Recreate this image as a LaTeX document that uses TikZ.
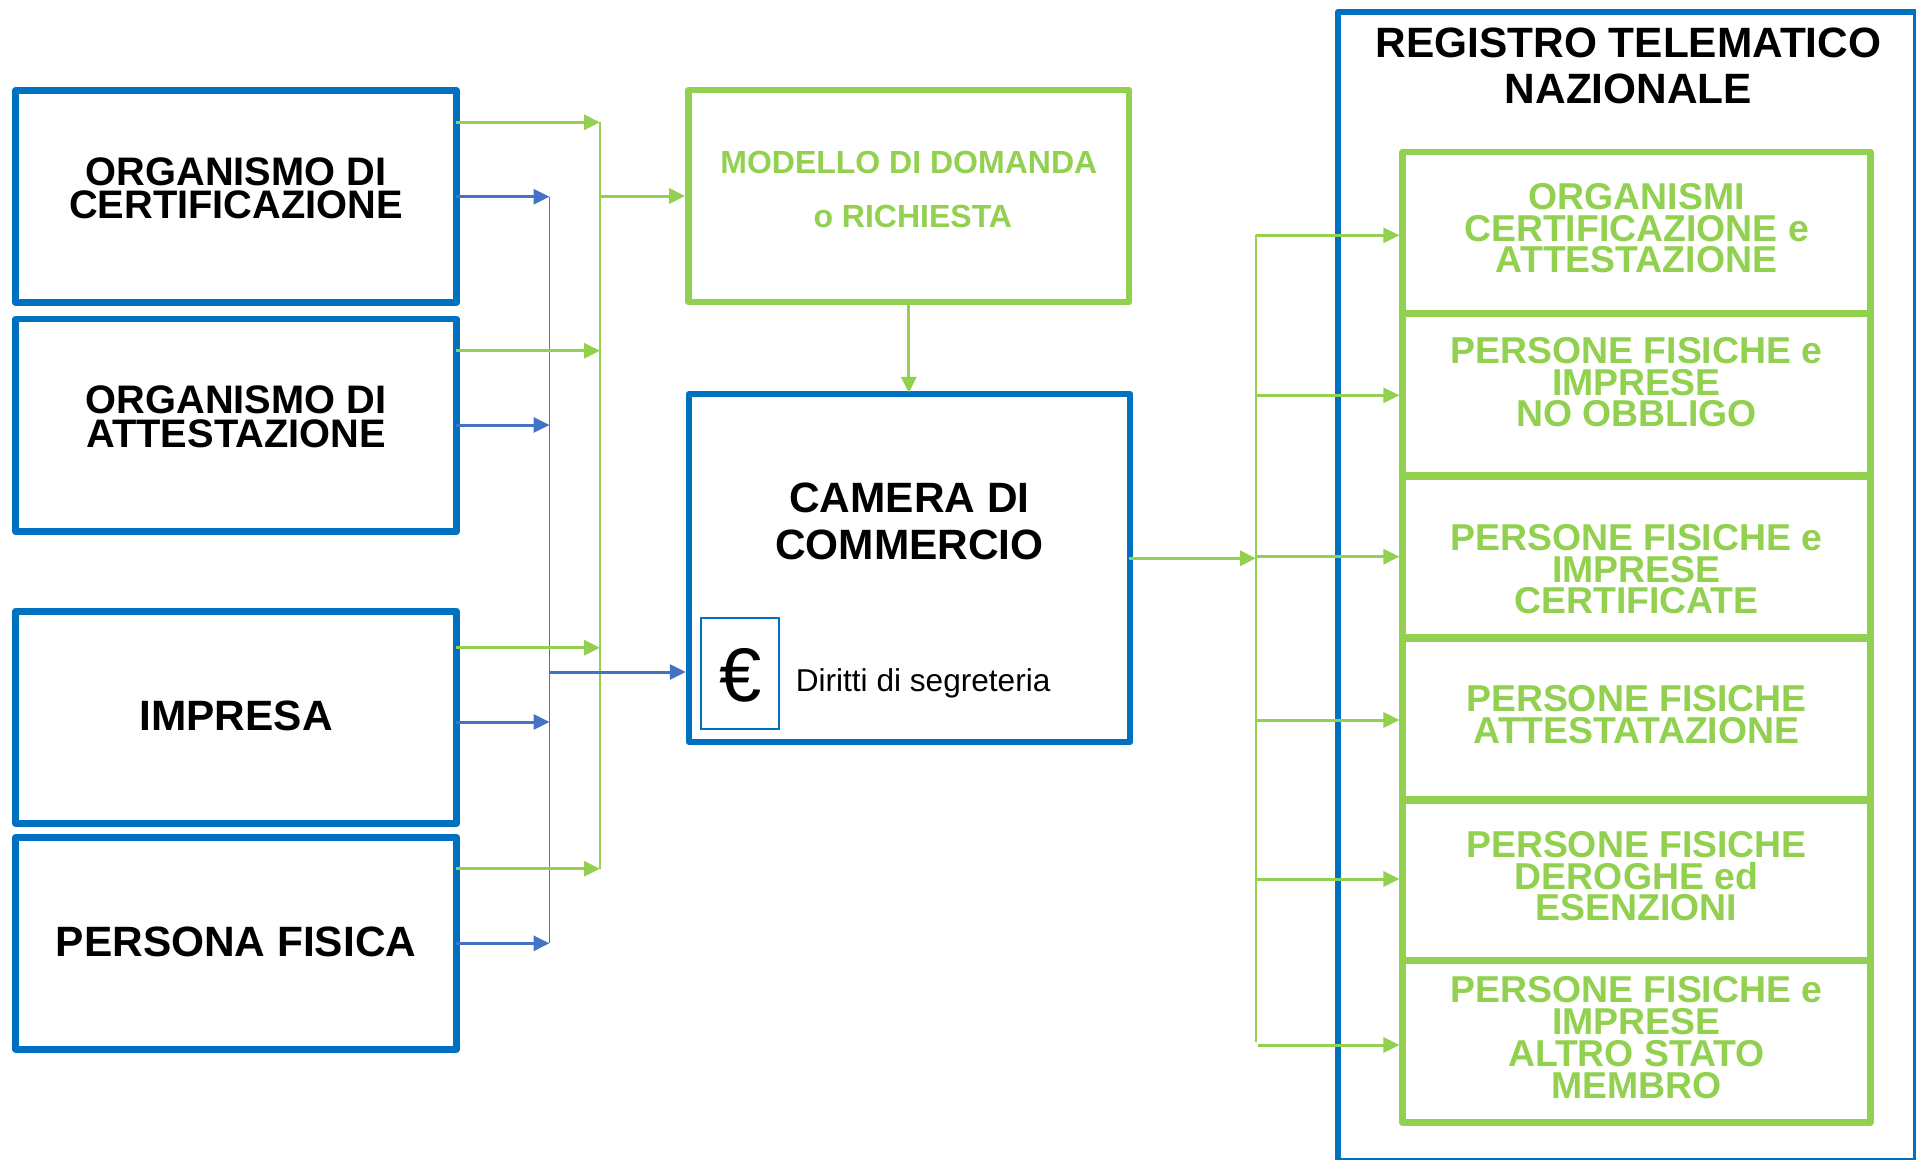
\documentclass[tikz,border=0pt]{standalone}
\usepackage{fontspec}
\setmainfont{Liberation Sans}
\usetikzlibrary{arrows.meta}
\definecolor{bluebox}{HTML}{0070C0}
\definecolor{greenbox}{HTML}{92D050}
\definecolor{bluearrow}{HTML}{4472C4}
\tikzset{
  basebox/.style={draw,line width=6.5pt,line join=round,inner sep=0pt,align=center,fill=white},
  bluebx/.style={basebox,draw=bluebox,text=black},
  greenbx/.style={basebox,draw=greenbox,text=greenbox},
  sz/.style n args={3}{minimum width=#1pt,minimum height=#2pt,text height=#3pt,text depth=0pt},
  szup/.style n args={3}{minimum width=#1pt,minimum height=#2pt,text height=0pt,text depth=#3pt},
  fleft/.style={font=\fontsize{39.8}{33.3}\selectfont\bfseries},
  fbig/.style={font=\fontsize{42.4}{46.5}\selectfont\bfseries},
  fstack/.style={font=\fontsize{37.4}{31.7}\selectfont\bfseries},
  fmod/.style={font=\fontsize{32}{53.7}\selectfont\bfseries},
  garrow/.style={draw=greenbox,line width=3pt,-{Triangle[length=16pt,width=15pt]}},
  barrow/.style={draw=bluearrow,line width=3pt,-{Triangle[length=16pt,width=15pt]}},
  gbus/.style={draw=greenbox,line width=1.5pt},
  bbus/.style={draw=bluearrow,line width=1.2pt},
}
\begin{document}
\begin{tikzpicture}[x=1pt,y=-1pt]
\useasboundingbox (0,0) rectangle (1916,1159.6);
\fill[white] (0,0) rectangle (1916,1159.6);
\clip (0,0) rectangle (1916,1159.6);

% Registro
\node[bluebx,fbig,szup={578.5}{1149.5}{966}] (reg) at (1627.25,586.75) {\hspace*{2.4pt}REGISTRO TELEMATICO\\\hspace*{2.4pt}NAZIONALE};

% left boxes
\node[bluebx,fleft,sz={440.8}{212.4}{44.4}] (cert) at (236.1,196.5) {ORGANISMO DI\\CERTIFICAZIONE};
\node[bluebx,fleft,sz={440.8}{212.4}{43.6}] (att) at (236.1,425.2) {ORGANISMO DI\\ATTESTAZIONE};
\node[bluebx,fbig,sz={440.8}{212}{25.4}] (imp) at (236.1,717.3) {IMPRESA};
\node[bluebx,fbig,sz={440.8}{212}{25.5}] (pf) at (236.1,943.25) {PERSONA FISICA};

% centre
\node[greenbx,fmod,sz={440.8}{212}{62}] (mod) at (908.8,196) {MODELLO DI DOMANDA\\\hspace*{8pt}o RICHIESTA};
\node[bluebx,fbig,szup={441}{347.7}{18}] (cam) at (909.5,568) {CAMERA DI\\COMMERCIO};
\node[draw=bluebox,line width=1.5pt,inner sep=0pt,font=\fontsize{76}{80}\selectfont,sz={78}{111}{56.4}] (eur) at (740,673.5) {\hspace*{2pt}€};
\node[anchor=base west,inner sep=0pt,font=\fontsize{31.6}{36}\selectfont] (dir) at (795.6,691.7) {Diritti di segreteria};

% stack
\node[greenbx,fstack,sz={467.6}{161.2}{80.2}] (s1) at (1636.5,232.6) {ORGANISMI\\CERTIFICAZIONE e\\ATTESTAZIONE};
\node[greenbx,fstack,sz={467.6}{161.4}{64.8}] (s2) at (1636.5,394.3) {PERSONE FISICHE e\\IMPRESE\\NO OBBLIGO};
\node[greenbx,fstack,sz={467.6}{160.9}{113.5}] (s3) at (1636.5,556.95) {PERSONE FISICHE e\\IMPRESE\\CERTIFICATE};
\node[greenbx,fstack,sz={467.6}{160.2}{49}] (s4) at (1636.5,719.1) {PERSONE FISICHE\\ATTESTATAZIONE};
\node[greenbx,fstack,sz={467.6}{159.5}{80.3}] (s5) at (1636.5,880.55) {PERSONE FISICHE\\DEROGHE ed\\ESENZIONI};
\node[greenbx,fstack,sz={467.6}{161.7}{112.9}] (s6) at (1636.5,1041.55) {PERSONE FISICHE e\\IMPRESE\\ALTRO STATO\\MEMBRO};

% bus coordinates
\coordinate (g1) at (600,122.3);
\coordinate (g2) at (600,350.7);
\coordinate (g3) at (600,647.7);
\coordinate (g4) at (600,868.7);
\coordinate (gm) at (600,196);
\coordinate (b1) at (549.5,196.7);
\coordinate (b2) at (549.5,425);
\coordinate (b3) at (549.5,722);
\coordinate (b4) at (549.5,943.3);
\coordinate (bm) at (549.5,672);
\coordinate (rt) at (1256,235.3);
\coordinate (r2) at (1256,395.3);
\coordinate (r3) at (1256,556.7);
\coordinate (r4) at (1256,720);
\coordinate (r5) at (1256,879);
\coordinate (r6) at (1258,1045);
\coordinate (rb) at (1256,1041.7);
\coordinate (ri) at (1256,558.3);

% buses
\draw[bbus] (b1) -- (b4);
\draw[gbus] (g1) -- (g4);
\draw[gbus] (rt) -- (rb);

% blue arrows
\draw[barrow] ([xshift=-3.75pt]cert.east |- b1) -- (b1);
\draw[barrow] ([xshift=-3.75pt]att.east |- b2) -- (b2);
\draw[barrow] ([xshift=-3.75pt]imp.east |- b3) -- (b3);
\draw[barrow] ([xshift=-3.75pt]pf.east |- b4) -- (b4);
\draw[barrow] (bm) -- (cam.west |- bm);

% green arrows
\draw[garrow] ([xshift=-3.75pt]cert.east |- g1) -- (g1);
\draw[garrow] ([xshift=-3.75pt]att.east |- g2) -- (g2);
\draw[garrow] ([xshift=-3.75pt]imp.east |- g3) -- (g3);
\draw[garrow] ([xshift=-3.75pt]pf.east |- g4) -- (g4);
\draw[garrow] (gm) -- (mod.west |- gm);
\draw[garrow,shorten >=-2pt] (mod.south) -- (mod.south |- cam.north);
\draw[garrow] ([xshift=-4.5pt]cam.east |- ri) -- (ri);
\draw[garrow] (rt) -- (s1.west |- rt);
\draw[garrow] (r2) -- (s2.west |- r2);
\draw[garrow] (r3) -- (s3.west |- r3);
\draw[garrow] (r4) -- (s4.west |- r4);
\draw[garrow] (r5) -- (s5.west |- r5);
\draw[garrow] (r6) -- (s6.west |- r6);
\end{tikzpicture}
\end{document}
